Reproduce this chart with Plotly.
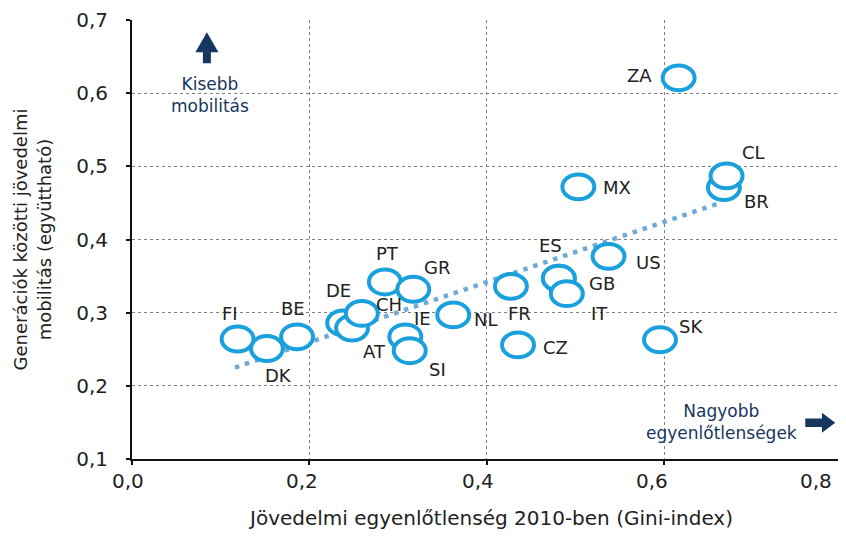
import plotly.graph_objects as go

# ---- data ----
countries = ["FI", "DK", "BE", "DE", "AT", "CH", "PT", "IE", "SI", "GR", "NL",
             "FR", "CZ", "ES", "GB", "IT", "MX", "US", "SK", "ZA", "BR", "CL"]
gini = [0.119, 0.152, 0.186, 0.238, 0.248, 0.259, 0.285, 0.308, 0.313, 0.317, 0.362,
        0.427, 0.435, 0.481, 0.481, 0.490, 0.503, 0.537, 0.595, 0.616, 0.667, 0.670]
mobility = [0.264, 0.251, 0.267, 0.286, 0.279, 0.299, 0.342, 0.267, 0.248, 0.332, 0.297,
            0.336, 0.256, 0.347, 0.347, 0.326, 0.472, 0.377, 0.263, 0.621, 0.471, 0.487]

trend_x = [0.116, 0.665]
trend_y = [0.225, 0.451]

x_ticks = [0.0, 0.2, 0.4, 0.6, 0.8]
x_tick_labels = ["0,0", "0,2", "0,4", "0,6", "0,8"]
y_ticks = [0.1, 0.2, 0.3, 0.4, 0.5, 0.6, 0.7]
y_tick_labels = ["0,1", "0,2", "0,3", "0,4", "0,5", "0,6", "0,7"]

x_title = "Jövedelmi egyenlőtlenség 2010-ben (Gini-index)"
y_title = "Generációk közötti jövedelmi<br>mobilitás (együttható)"

# ---- style ----
FONT = "DejaVu Sans"
BLUE = "#1aa0dc"
TREND = "#6eaad8"
NAVY = "#17375e"
TEXT = "#222222"
GRID = "#808080"
# half sizes of the ring markers, in axis units
RX, RY = 0.0180, 0.0170
# the x tick labels in the reference sit slightly left of their ticks (px);
# the last one is right-aligned so it ends at the plot edge
X_LABEL_SHIFT = [-4, -7, -9, -12, -8]
X_LABEL_ANCHOR = ["center", "center", "center", "center", "right"]

# label offsets in pixels (dx right, dy down)
LABEL_OFFSETS = {
    "FI": (-8, -26), "DK": (12, 27), "BE": (-4, -28), "DE": (-5, -32),
    "AT": (22, 23), "CH": (27, -9), "PT": (3, -28), "IE": (17, -18),
    "SI": (28, 19), "GR": (24, -22), "NL": (33, 5), "FR": (9, 27),
    "CZ": (37, 3), "ES": (-8, -33), "GB": (43, 5), "IT": (33, 20),
    "MX": (39, 1), "US": (40, 6), "SK": (31, -13), "ZA": (-39, -2),
    "BR": (33, 14), "CL": (27, -23),
}

fig = go.Figure()

fig.add_trace(go.Scatter(
    x=trend_x, y=trend_y, mode="lines",
    line=dict(color=TREND, width=4.5, dash="4.5px,6px"),
    hoverinfo="skip", showlegend=False,
))

fig.add_trace(go.Scatter(
    x=gini, y=mobility, mode="markers", text=countries,
    marker=dict(size=1, color="rgba(0,0,0,0)"),
    hovertemplate="%{text}: %{x}, %{y}<extra></extra>", showlegend=False,
))

shapes = []
for xv, yv in zip(gini, mobility):
    shapes.append(dict(
        type="circle", xref="x", yref="y",
        x0=xv - RX, x1=xv + RX, y0=yv - RY, y1=yv + RY,
        line=dict(color=BLUE, width=4), fillcolor="white", layer="above",
    ))

# arrows (decorations)
xc, tip, hb, bot, hw, sw = 0.0844, 0.6834, 0.656, 0.641, 0.013, 0.0045
shapes.append(dict(
    type="path", xref="x", yref="y",
    path=(f"M {xc},{tip} L {xc+hw},{hb} L {xc+sw},{hb} L {xc+sw},{bot} "
          f"L {xc-sw},{bot} L {xc-sw},{hb} L {xc-hw},{hb} Z"),
    fillcolor=NAVY, line=dict(width=0), layer="above",
))
yc, tx, hbx, lx, hh, sh = 0.1495, 0.7925, 0.7775, 0.7587, 0.0136, 0.0057
shapes.append(dict(
    type="path", xref="x", yref="y",
    path=(f"M {tx},{yc} L {hbx},{yc+hh} L {hbx},{yc+sh} L {lx},{yc+sh} "
          f"L {lx},{yc-sh} L {hbx},{yc-sh} L {hbx},{yc-hh} Z"),
    fillcolor=NAVY, line=dict(width=0), layer="above",
))

annotations = []
for c, xv, yv in zip(countries, gini, mobility):
    dx, dy = LABEL_OFFSETS[c]
    annotations.append(dict(
        x=xv, y=yv, xref="x", yref="y", text=c, showarrow=False,
        xshift=dx, yshift=-dy, font=dict(family=FONT, size=18, color=TEXT),
    ))

# x tick labels
for v, t, dx, anc in zip(x_ticks, x_tick_labels, X_LABEL_SHIFT, X_LABEL_ANCHOR):
    annotations.append(dict(
        x=v, xref="x", y=0, yref="paper", yanchor="top", xanchor=anc, text=t,
        showarrow=False, xshift=dx, yshift=-8,
        font=dict(family=FONT, size=20, color=TEXT),
    ))

# x axis title
annotations.append(dict(
    x=0.5, xref="paper", y=0, yref="paper", yanchor="top", text=x_title,
    showarrow=False, xshift=3, yshift=-45,
    font=dict(family=FONT, size=20, color=TEXT),
))

annotations.append(dict(
    x=0.088, y=0.598, xref="x", yref="y", text="Kisebb<br>mobilitás",
    showarrow=False, font=dict(family=FONT, size=17, color=NAVY),
))
annotations.append(dict(
    x=0.664, y=0.151, xref="x", yref="y", text="Nagyobb<br>egyenlőtlenségek",
    showarrow=False, font=dict(family=FONT, size=17, color=NAVY),
))

# the page body adds an 8px margin, so the figure is sized to fit inside it
fig.update_layout(
    width=838, height=521,
    margin=dict(l=124, r=4, t=11.5, b=69.7),
    paper_bgcolor="white", plot_bgcolor="white",
    font=dict(family=FONT, size=20, color=TEXT),
    shapes=shapes, annotations=annotations,
    showlegend=False,
)
fig.update_xaxes(
    range=[0, 0.8001], tickvals=x_ticks, showticklabels=False,
    showline=True, linecolor="#111", linewidth=2,
    ticks="outside", ticklen=4, tickwidth=1.5, tickcolor="#111",
    showgrid=True, gridcolor=GRID, gridwidth=1, griddash="dot",
    zeroline=False, automargin=False,
)
fig.update_yaxes(
    range=[0.1, 0.7001], tickvals=y_ticks, ticktext=y_tick_labels,
    ticklabeloverflow="allow",
    showline=True, linecolor="#111", linewidth=2,
    ticks="outside", ticklen=4, tickwidth=1.5, tickcolor="#111",
    showgrid=True, gridcolor=GRID, gridwidth=1, griddash="dot",
    zeroline=False, ticklabelstandoff=14, automargin=False,
    tickfont=dict(family=FONT, size=20, color=TEXT),
    title=dict(text=y_title,
               font=dict(family=FONT, size=18, color=TEXT), standoff=20),
)

fig.write_html("out.html")
